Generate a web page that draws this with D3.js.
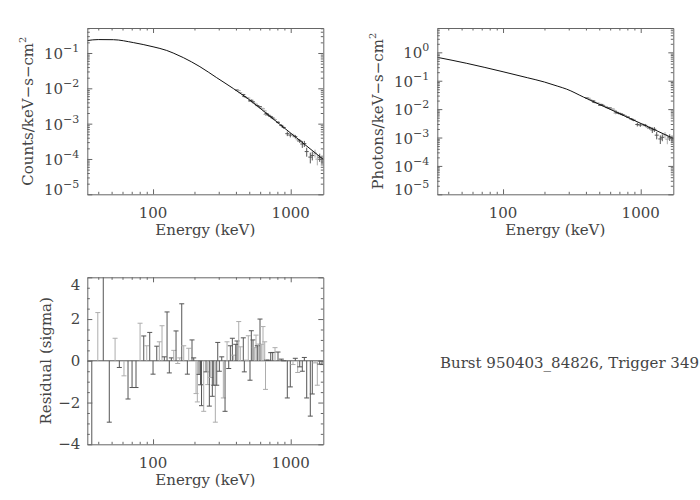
<!DOCTYPE html>
<html>
<head>
<meta charset="utf-8">
<script src="https://cdn.jsdelivr.net/npm/d3@7"></script>
<style>
  body { margin: 0; background: #fff; }
  svg { display: block; }
  .lbl { font-family: "DejaVu Serif", serif; font-size: 15px; fill: #444; }
</style>
</head>
<body>
<script>
// ---- data ----
var xDomain = [33.3, 1725];
var xMajor = [100, 1000];
var xMajorLabels = ["100", "1000"];

// fitted count-rate model (keV, counts/keV-s-cm2)
var countModelE = [33.3, 40, 51.5, 71.9, 100, 125.7, 140, 166, 219, 290, 383, 506, 668, 884, 1168, 1725];
var countModel = [0.225, 0.24, 0.238, 0.197, 0.150, 0.118, 0.100, 0.074, 0.041, 0.0200, 0.00986, 0.00461, 0.00193, 7.94e-4, 3.31e-4, 9.7e-5];

// fitted photon model (keV, photons/keV-s-cm2)
var photonModelE = [33.3, 54.5, 100, 150, 200, 250, 290, 383, 506, 668, 884, 1168, 1725];
var photonModel = [0.667, 0.41, 0.207, 0.128, 0.090, 0.064, 0.0505, 0.0268, 0.0144, 0.00774, 0.00414, 0.00223, 0.00093];

// residuals per channel
var resE = [35.9, 39.7, 43.5, 48.1, 53.0, 56.9, 61.5, 65.8, 70.4, 75.2, 80.5, 85.6, 90.0, 94.6, 100,
  106.4, 111.1, 116.2, 120.8, 126.4, 131.3, 135.8, 141.4, 146.9, 151.1, 156.3, 161.6, 167.1, 177.5, 181.7,
  191.9, 197.5, 205.3, 209.8, 215.8, 221.3, 225.0, 233.4, 242.6, 249.6, 256.4, 262.4, 269.5, 276.0, 283.5,
  290.2, 295.1, 303.1, 315.5, 324.1, 333.4, 344.8, 354.7, 364.4, 376.8, 385.7, 398.8, 407.4, 419.3, 430.5,
  452.6, 460.3, 476.0, 492.1, 506.3, 517.5, 532.3, 544.1, 559.8, 572.1, 585.7, 598.4, 611.6, 629.2, 647.4,
  656.1, 667.2, 690.0, 715.9, 740.2, 769.1, 808.7, 854.5, 889.6, 944.7, 993.4, 1039, 1080, 1124, 1163,
  1214, 1256, 1307, 1388, 1435, 1502, 1561, 1624, 1688];
var resVal = [-4.3, 2.31, 4.4, -2.94, 1.08, -0.32, -0.72, -1.83, -1.28, -1.28, 1.8, 1.19, 0.72, 1.36, -0.64,
  0.7, 0.91, 1.68, 0.19, 2.34, -0.58, 0.14, 0.5, 1.43, -0.13, 0.14, 2.73, 0.72, -0.64, 0.6,
  1.0, 0.14, -1.57, -1.97, -0.65, -1.15, -2.15, -2.42, -0.53, -1.14, -2.17, -0.8, -1.7, -1.17, -2.94,
  -1.17, 0.88, -0.5, 0.19, -1.78, -2.42, 0.91, -0.37, 0.72, 1.08, 0.27, 0.79, 0.95, 1.88, 0.67,
  1.1, -0.53, 0.03, 1.2, -0.93, 1.44, 1.0, 0.63, 1.23, 0.72, 0.8, 2.0, 0.79, 1.64, 0.91,
  -1.37, 0.03, 0.03, 0.39, 0.4, 0.63, 0.42, 0.08, 0.0, -1.78, -1.25, -0.18, 0.12, -0.56, -0.29,
  -0.5, 0.16, -1.78, -2.65, -1.59, -0.1, -1.17, -0.16, -0.18];
// detector of each channel (0 = light trace, 1 = dark trace)
var resDet = [1, 0, 1, 1, 0, 1, 0, 1, 1, 1, 0, 1, 0, 1, 1,
  1, 0, 0, 1, 1, 1, 1, 0, 1, 0, 0, 1, 0, 1, 0,
  1, 1, 0, 0, 1, 1, 1, 0, 1, 0, 1, 0, 1, 1, 0,
  1, 1, 1, 1, 0, 1, 0, 1, 1, 1, 0, 1, 1, 0, 0,
  1, 1, 0, 0, 1, 1, 1, 0, 0, 1, 0, 1, 0, 0, 0,
  0, 1, 1, 1, 1, 0, 1, 1, 1, 1, 1, 0, 1, 0, 1,
  1, 1, 1, 1, 1, 0, 0, 1, 1];

// observed points in the noisy high-energy part (same channels as resE from 407 keV)
var dataE = [407.4, 419.3, 430.5, 452.6, 460.3, 476.0, 492.1, 506.3, 517.5, 532.3, 544.1, 559.8, 572.1, 585.7,
  598.4, 611.6, 629.2, 647.4, 656.1, 667.2, 690.0, 715.9, 740.2, 769.1, 808.7, 854.5, 889.6, 944.7,
  993.4, 1039, 1080, 1124, 1163, 1214, 1256, 1307, 1388, 1435, 1502, 1561, 1624, 1688];
var countsObs = [8.89e-3, 8.59e-3, 7.51e-3, 6.64e-3, 5.85e-3, 5.48e-3, 5.30e-3, 4.40e-3, 4.60e-3, 4.14e-3,
  3.78e-3, 3.56e-3, 3.25e-3, 3.02e-3, 3.01e-3, 2.69e-3, 2.65e-3, 2.29e-3, 1.82e-3, 1.93e-3, 1.73e-3,
  1.59e-3, 1.44e-3, 1.30e-3, 1.09e-3, 8.9e-4, 7.78e-4, 5.20e-4, 4.74e-4, 4.68e-4, 4.29e-4, 3.49e-4,
  3.24e-4, 2.65e-4, 2.72e-4, 1.62e-4, 1.13e-4, 1.26e-4, 1.46e-4, 9.9e-5, 1.12e-4, 9.9e-5];
var countsErr = [4.2e-4, 3.9e-4, 3.6e-4, 3.1e-4, 3.0e-4, 2.7e-4, 2.5e-4, 2.3e-4, 2.1e-4, 2.0e-4,
  1.8e-4, 1.7e-4, 1.6e-4, 1.5e-4, 1.4e-4, 2.0e-4, 1.9e-4, 1.7e-4, 1.6e-4, 1.5e-4, 1.4e-4,
  1.2e-4, 1.1e-4, 1.0e-4, 8.4e-5, 7.1e-5, 6.2e-5, 7.7e-5, 6.6e-5, 5.7e-5, 5.1e-5, 4.5e-5,
  4.0e-5, 5.9e-5, 5.3e-5, 4.6e-5, 3.8e-5, 3.5e-5, 3.7e-5, 3.3e-5, 2.9e-5, 2.6e-5];
var photonsObs = [0.02455, 0.0241, 0.02137, 0.01945, 0.01731, 0.01648, 0.01626, 0.01374, 0.01466, 0.01352,
  0.01265, 0.01219, 0.01135, 0.01077, 0.01094, 0.01002, 0.01009, 0.00895, 0.00722, 0.00776, 0.00721,
  0.00684, 0.00637, 0.00596, 0.00522, 0.0045, 0.00408, 0.00288, 0.00275, 0.00283, 0.00269, 0.00227,
  0.00217, 0.00185, 0.00195, 0.00121, 0.00089, 0.00102, 0.00124, 0.00087, 0.00103, 0.00094];
var photonsErr = [0.0012, 0.0011, 0.00103, 0.00092, 0.00089, 0.00082, 0.00077, 0.00072, 0.00068, 0.00064,
  0.00061, 0.00057, 0.00055, 0.00052, 0.0005, 0.00075, 0.00071, 0.00067, 0.00064, 0.00062, 0.00058,
  0.00053, 0.00049, 0.00045, 0.0004, 0.00036, 0.00033, 0.00043, 0.00038, 0.00035, 0.00032, 0.00029,
  0.00027, 0.00041, 0.00038, 0.00035, 0.0003, 0.00028, 0.00032, 0.00029, 0.00027, 0.00024];
var dataDet = resDet.slice(resE.indexOf(407.4));

var countsExp = [-5, -4, -3, -2, -1];
var photonsExp = [-5, -4, -3, -2, -1, 0];
var resMajor = [-4, -2, 0, 2, 4];
var resMajorLabels = ["\u22124", "\u22122", "0", "2", "4"];

// the reference shows the caption running into the right edge of the page
var titleText = "Burst 950403_84826, Trigger 349";

// ---- layout ----
var frameColor = "#666";
var detColor = d3.scaleOrdinal().domain([0, 1]).range(["#adadad", "#555"]);

var svg = d3.select("body").append("svg")
  .attr("width", 700)
  .attr("height", 500);

var panels = {
  counts: { left: 87.3, top: 28, width: 236, height: 166.3 },
  photons: { left: 437.3, top: 28, width: 236, height: 166.3 },
  residual: { left: 87.3, top: 277.3, width: 236, height: 167 }
};

function xScale(p) {
  return d3.scaleLog().domain(xDomain).range([p.left, p.left + p.width]);
}

function clipFor(id, p) {
  svg.append("clipPath").attr("id", id)
    .append("rect")
    .attr("x", p.left).attr("y", p.top)
    .attr("width", p.width).attr("height", p.height);
  return svg.append("g").attr("clip-path", `url(#${id})`);
}

// four-sided IDL style frame with inward ticks
function drawFrame(p, x, y, yMajor, yMinor) {
  var bottom = p.top + p.height, right = p.left + p.width;
  var xMinor = x.ticks().filter(d => xMajor.indexOf(d) < 0);
  var sides = [
    [d3.axisBottom(x), `translate(0,${bottom})`, xMajor, xMinor],
    [d3.axisTop(x), `translate(0,${p.top})`, xMajor, xMinor],
    [d3.axisLeft(y), `translate(${p.left},0)`, yMajor, yMinor],
    [d3.axisRight(y), `translate(${right},0)`, yMajor, yMinor]
  ];
  sides.forEach(function(s) {
    var major = svg.append("g").attr("transform", s[1])
      .call(s[0].tickValues(s[2]).tickSize(-5).tickSizeOuter(0).tickFormat(""));
    major.selectAll("path, line").attr("stroke", frameColor);
    var minor = svg.append("g").attr("transform", s[1])
      .call(s[0].tickValues(s[3]).tickSize(-2.5).tickSizeOuter(0).tickFormat(""));
    minor.select(".domain").remove();
    minor.selectAll("line").attr("stroke", frameColor);
  });

  // x labels
  xMajor.forEach(function(v, i) {
    svg.append("text").attr("class", "lbl")
      .attr("x", x(v)).attr("y", bottom + 24)
      .attr("text-anchor", "middle")
      .text(xMajorLabels[i]);
  });
  svg.append("text").attr("class", "lbl")
    .attr("x", p.left + p.width / 2).attr("y", bottom + 41)
    .attr("text-anchor", "middle")
    .text("Energy (keV)");
}

function logLabels(p, y, exps) {
  exps.forEach(function(e) {
    var yy = y(Math.pow(10, e)) + 6;
    if (e === exps[0]) yy -= 5.6;
    var t = svg.append("text").attr("class", "lbl")
      .attr("x", p.left - 8).attr("y", yy)
      .attr("text-anchor", "end");
    t.append("tspan").text("10");
    t.append("tspan").attr("dy", -7).attr("font-size", 11)
      .text(e < 0 ? "\u2212" + (-e) : String(e));
  });
}

function yTitle(cx, cy, main, sup) {
  var t = svg.append("text").attr("class", "lbl")
    .attr("transform", `translate(${cx},${cy}) rotate(-90)`)
    .attr("text-anchor", "middle");
  t.append("tspan").text(main);
  if (sup) t.append("tspan").attr("dy", -7).attr("font-size", 10).text(sup);
}

function spectrumPanel(p, id, yDomain, exps, modelE, model, obs, err, title) {
  var x = xScale(p);
  var y = d3.scaleLog().domain(yDomain).range([p.top + p.height, p.top]);
  var yMajor = exps.map(e => Math.pow(10, e));
  var yMinor = y.ticks().filter(d => yMajor.every(m => Math.abs(d / m - 1) > 1e-6));

  var g = clipFor(id, p);

  // observed points with error bars
  var pts = g.selectAll(".pt").data(dataE).enter().append("g");
  pts.append("line")
    .attr("x1", d => x(d)).attr("x2", d => x(d))
    .attr("y1", (d, i) => y(Math.max(obs[i] - err[i], 1e-7)))
    .attr("y2", (d, i) => y(obs[i] + err[i]))
    .attr("stroke", (d, i) => detColor(dataDet[i]));
  pts.append("line")
    .attr("x1", d => x(d) - 2).attr("x2", d => x(d) + 2)
    .attr("y1", (d, i) => y(obs[i])).attr("y2", (d, i) => y(obs[i]))
    .attr("stroke", (d, i) => detColor(dataDet[i]));

  // model
  var line = d3.line()
    .x(d => x(d[0])).y(d => y(d[1]))
    .curve(d3.curveMonotoneX);
  g.append("path")
    .datum(d3.zip(modelE, model))
    .attr("d", line)
    .attr("fill", "none")
    .attr("stroke", "#111")
    .attr("stroke-width", 1);

  drawFrame(p, x, y, yMajor, yMinor);
  logLabels(p, y, exps);
  yTitle(p.left - 54, p.top + p.height / 2, title, "2");
}

spectrumPanel(panels.counts, "clipCounts", [1e-5, 0.51], countsExp,
  countModelE, countModel, countsObs, countsErr, "Counts/keV\u2212s\u2212cm");
spectrumPanel(panels.photons, "clipPhotons", [1e-5, 7.2], photonsExp,
  photonModelE, photonModel, photonsObs, photonsErr, "Photons/keV\u2212s\u2212cm");

// ---- residual panel ----
(function() {
  var p = panels.residual;
  var x = xScale(p);
  var y = d3.scaleLinear().domain([-4, 4]).range([p.top + p.height, p.top]);
  var yMinor = d3.range(-3.5, 4, 0.5).filter(d => resMajor.indexOf(d) < 0);

  var g = clipFor("clipRes", p);
  g.append("line")
    .attr("x1", p.left).attr("x2", p.left + p.width)
    .attr("y1", y(0)).attr("y2", y(0))
    .attr("stroke", "#555");

  var bars = g.selectAll(".bar").data(resE).enter().append("g")
    .attr("stroke", (d, i) => detColor(resDet[i]));
  bars.append("line")
    .attr("x1", d => x(d)).attr("x2", d => x(d))
    .attr("y1", y(0)).attr("y2", (d, i) => y(resVal[i]));
  bars.append("line")
    .attr("x1", d => x(d) - 2.5).attr("x2", d => x(d) + 2.5)
    .attr("y1", (d, i) => y(resVal[i])).attr("y2", (d, i) => y(resVal[i]));

  drawFrame(p, x, y, resMajor, yMinor);

  resMajor.forEach(function(v, i) {
    var yy = y(v) + 5;
    if (v === 4) yy += 7.7;
    svg.append("text").attr("class", "lbl")
      .attr("x", p.left - 7).attr("y", yy)
      .attr("text-anchor", "end")
      .text(resMajorLabels[i]);
  });
  yTitle(p.left - 36, p.top + p.height / 2, "Residual (sigma)");
})();

svg.append("text").attr("class", "lbl")
  .attr("x", 440).attr("y", 368)
  .text(titleText);
</script>
</body>
</html>
